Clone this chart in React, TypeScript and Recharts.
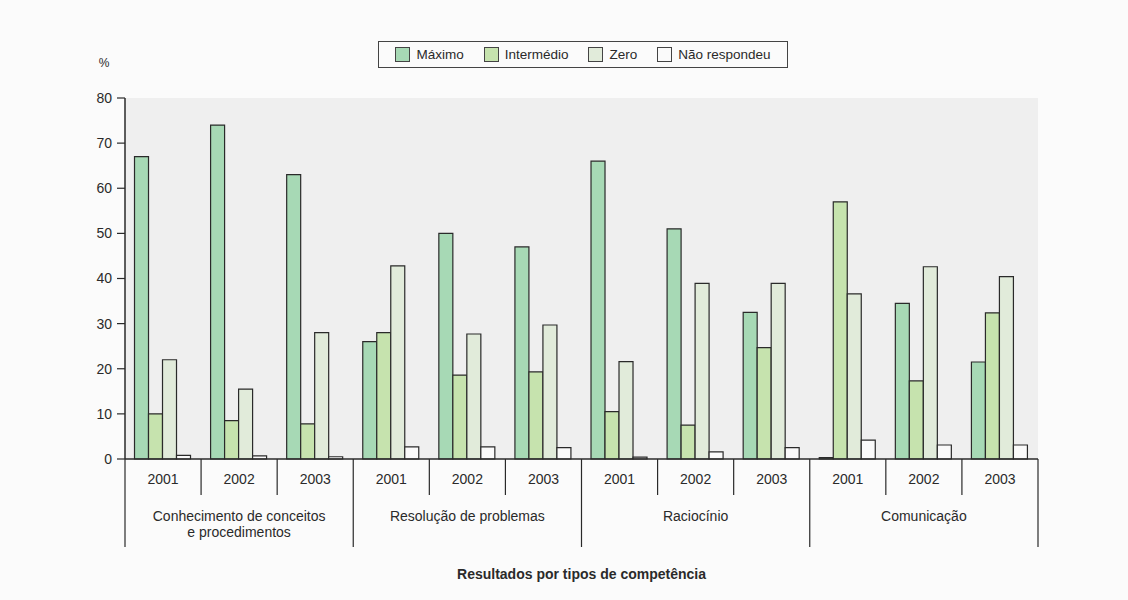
import React from 'react';
import { BarChart, Bar, XAxis, YAxis, CartesianGrid, Legend, Label } from 'recharts';

const groups = [
  ['Conhecimento de conceitos', 'e procedimentos'],
  ['Resolução de problemas'],
  ['Raciocínio'],
  ['Comunicação'],
];
const years = ['2001', '2002', '2003'];
const yTicks = [0, 10, 20, 30, 40, 50, 60, 70, 80];

const maximo = [67, 74, 63, 26, 50, 47, 66, 51, 32.5, 0.3, 34.5, 21.5];
const intermedio = [10, 8.5, 7.8, 28, 18.6, 19.3, 10.5, 7.5, 24.7, 57, 17.3, 32.4];
const zero = [22, 15.5, 28, 42.8, 27.7, 29.7, 21.6, 38.9, 38.9, 36.6, 42.6, 40.4];
const naoRespondeu = [0.8, 0.7, 0.5, 2.7, 2.7, 2.5, 0.4, 1.6, 2.5, 4.2, 3.1, 3.1];

const seriesNames = ['Máximo', 'Intermédio', 'Zero', 'Não respondeu'];
const seriesKeys = ['maximo', 'intermedio', 'zero', 'naoRespondeu'];
const seriesColors = ['#a7d9b5', '#c6e3ae', '#e1ebda', '#fafafa'];

const data = maximo.map((_, i) => ({
  key: `${Math.floor(i / 3)}-${years[i % 3]}`,
  year: years[i % 3],
  group: Math.floor(i / 3),
  maximo: maximo[i],
  intermedio: intermedio[i],
  zero: zero[i],
  naoRespondeu: naoRespondeu[i],
}));

const FONT = '"Liberation Sans", Arial, Helvetica, sans-serif';
const INK = '#2a2a2a';

const YearTick = (props: any) => {
  const { x, y, payload, index } = props;
  const half = payload && typeof payload.offset === 'number' && payload.offset > 0 ? payload.offset : 38;
  const i = typeof index === 'number' ? index : payload.index;
  return (
    <g>
      <text x={x} y={y + 25} textAnchor="middle" fontSize={14} fill={INK} fontFamily={FONT}>
        {data[i] ? data[i].year : ''}
      </text>
      {i % 3 !== 0 && <line x1={x - half} x2={x - half} y1={y} y2={y + 36} stroke={INK} strokeWidth={1.2} />}
    </g>
  );
};

const GroupTick = (props: any) => {
  const { x, y, payload, index } = props;
  const half = payload && typeof payload.offset === 'number' && payload.offset > 0 ? payload.offset : 38;
  const i = typeof index === 'number' ? index : payload.index;
  const g = Math.floor(i / 3);
  return (
    <g>
      {i % 3 === 0 && <line x1={x - half} x2={x - half} y1={y - 36} y2={y + 52} stroke={INK} strokeWidth={1.2} />}
      {i === data.length - 1 && <line x1={x + half} x2={x + half} y1={y - 36} y2={y + 52} stroke={INK} strokeWidth={1.2} />}
      {i % 3 === 1 &&
        groups[g].map((ln, k) => (
          <text key={k} x={x} y={y + 26 + k * 16} textAnchor="middle" fontSize={14} fill={INK} fontFamily={FONT}>
            {ln}
          </text>
        ))}
    </g>
  );
};

const LegendBox = () => (
  <div
    style={{
      display: 'flex',
      alignItems: 'center',
      justifyContent: 'center',
      border: '1px solid #444',
      height: 27,
      boxSizing: 'border-box',
      fontFamily: FONT,
      fontSize: 13.5,
      color: INK,
      background: '#fbfbfb',
    }}
  >
    {seriesNames.map((n, i) => (
      <div key={n} style={{ display: 'flex', alignItems: 'center', marginRight: i < 3 ? 20 : 0 }}>
        <span
          style={{
            display: 'inline-block',
            width: 13,
            height: 13,
            border: '1px solid #444',
            background: seriesColors[i],
            marginRight: 6,
          }}
        />
        <span>{n}</span>
      </div>
    ))}
  </div>
);

export default function App() {
  return (
    <div style={{ position: 'absolute', left: 0, top: 0, width: 1128, height: 600, background: '#fbfbfb' }}>
      <BarChart
        width={1128}
        height={600}
        data={data}
        margin={{ top: 98, right: 90, left: 65, bottom: 15 }}
        barCategoryGap="12.5%"
        barGap={0}
      >
        <CartesianGrid horizontal={false} vertical={false} fill="#efefef" />
        <XAxis
          dataKey="key"
          height={36}
          interval={0}
          tickSize={0}
          tickMargin={0}
          tickLine={false}
          axisLine={{ stroke: INK, strokeWidth: 1.5 }}
          tick={<YearTick />}
        />
        <XAxis
          xAxisId="grp"
          dataKey="key"
          height={90}
          interval={0}
          tickSize={0}
          tickMargin={0}
          tickLine={false}
          axisLine={false}
          tick={<GroupTick />}
        >
          <Label
            content={(p: any) => {
              const vb = p.viewBox || { x: 125, y: 495, width: 913 };
              return (
                <text
                  x={vb.x + vb.width / 2}
                  y={vb.y + 84}
                  textAnchor="middle"
                  fontSize={14}
                  fontWeight="bold"
                  fill={INK}
                  fontFamily={FONT}
                >
                  Resultados por tipos de competência
                </text>
              );
            }}
          />
        </XAxis>
        <XAxis
          xAxisId="top"
          orientation="top"
          dataKey="key"
          height={0}
          tick={false}
          tickLine={false}
          axisLine={{ stroke: INK, strokeWidth: 1.2 }}
        />
        <YAxis
          width={60}
          domain={[0, 80]}
          ticks={yTicks}
          interval={0}
          tickSize={8}
          tickMargin={5}
          tick={{ fontSize: 14, fill: INK, fontFamily: FONT }}
          tickLine={{ stroke: INK, strokeWidth: 1.2 }}
          axisLine={{ stroke: INK, strokeWidth: 1.5 }}
        >
          <Label
            content={(p: any) => {
              const vb = p.viewBox || { x: 65, y: 98, width: 60 };
              return (
                <text x={vb.x + vb.width - 21} y={vb.y - 31} textAnchor="middle" fontSize={12} fill={INK} fontFamily={FONT}>
                  %
                </text>
              );
            }}
          />
        </YAxis>
        <YAxis
          yAxisId="right"
          orientation="right"
          width={0}
          domain={[0, 80]}
          tick={false}
          tickLine={false}
          axisLine={{ stroke: INK, strokeWidth: 1.2 }}
        />
        <Legend
          layout="horizontal"
          verticalAlign="middle"
          align="center"
          wrapperStyle={{ position: 'absolute', top: 41, left: 378, width: 410, height: 27 }}
          content={() => <LegendBox />}
        />
        {seriesKeys.map((k, i) => (
          <Bar
            key={k}
            dataKey={k}
            name={seriesNames[i]}
            fill={seriesColors[i]}
            stroke={INK}
            strokeWidth={1.2}
            isAnimationActive={false}
          />
        ))}
      </BarChart>
    </div>
  );
}
